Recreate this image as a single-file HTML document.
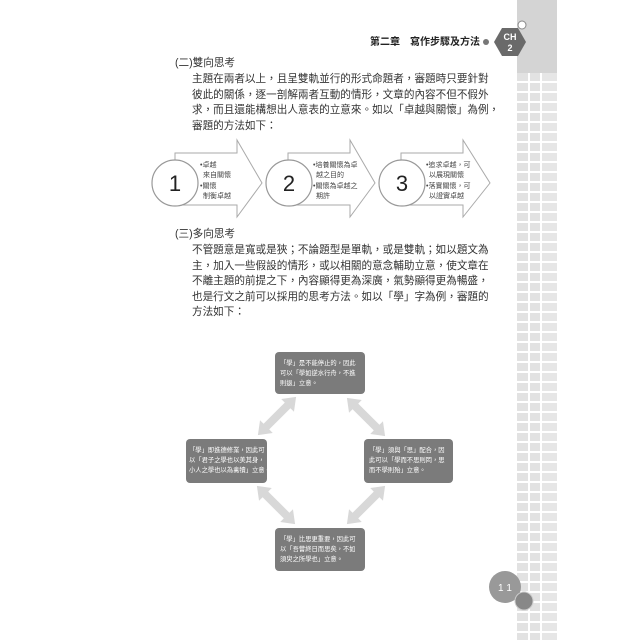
<!DOCTYPE html>
<html><head><meta charset="utf-8"><style>
body{margin:0;background:#fff;}
#p{position:relative;width:640px;height:640px;overflow:hidden;background:#fff;font-family:"Liberation Sans","Noto Sans CJK TC",sans-serif;color:#333;}
.t{position:absolute;white-space:nowrap;font-size:10.6px;line-height:15.5px;}
.side{position:absolute;left:517px;top:0;width:40px;height:640px;background:#d4d4d4;}
.grid{position:absolute;left:517px;top:73px;width:40px;height:567px;
background:
repeating-linear-gradient(to bottom,transparent 0,transparent 8px,#fff 8px,#fff 10px),
linear-gradient(to right,#e2e2e2 0,#e2e2e2 11px,#fff 11px,#fff 13px,#e2e2e2 13px,#e2e2e2 23px,#fff 23px,#fff 25px,#e6e6e6 25px);}
.box{position:absolute;background:#7b7b7b;border-radius:4px;color:#fff;font-size:6.3px;line-height:10px;padding:7px 5px;box-sizing:border-box;white-space:nowrap;overflow:hidden;}
</style></head><body><div id="p">
<div class="side"></div><div class="grid"></div>
<svg width="640" height="640" style="position:absolute;left:0;top:0">
  <circle cx="486" cy="42" r="3" fill="#777"/>
  <polygon points="494,42 502,28 518,28 526,42 518,56 502,56" fill="#6a6a6a"/>
  <circle cx="522" cy="25" r="4" fill="#fff" stroke="#888" stroke-width="1"/>
  <text x="510" y="40" font-size="9" font-weight="bold" fill="#fff" text-anchor="middle" font-family="Liberation Sans">CH</text>
  <text x="510" y="51" font-size="9" font-weight="bold" fill="#fff" text-anchor="middle" font-family="Liberation Sans">2</text>
  <g fill="#fff" stroke="#aaa" stroke-width="1">
    <polygon points="175,153 237,153 237,140 262,183 237,217 237,205 175,205"/>
    <polygon points="288,153 350,153 350,140 375,183 350,217 350,205 288,205"/>
    <polygon points="401,153 463,153 463,140 490,183 463,217 463,205 401,205"/>
  </g>
  <g fill="#fff" stroke="#999" stroke-width="1.2">
    <circle cx="175" cy="183" r="23"/><circle cx="289" cy="183" r="23"/><circle cx="402" cy="183" r="23"/>
  </g>
  <g font-size="22" fill="#222" text-anchor="middle" font-family="Liberation Sans">
    <text x="175" y="191">1</text><text x="289" y="191">2</text><text x="402" y="191">3</text>
  </g>
  <g font-size="7" fill="#444" font-family="Liberation Sans,Noto Sans CJK TC,sans-serif">
    <text x="200" y="167">•卓越</text><text x="203" y="177">來自關懷</text><text x="200" y="188">•關懷</text><text x="203" y="198">制衡卓越</text>
    <text x="313" y="167">•培養關懷為卓</text><text x="316" y="177">越之目的</text><text x="313" y="188">•關懷為卓越之</text><text x="316" y="198">期許</text>
    <text x="426" y="167">•追求卓越，可</text><text x="429" y="177">以展現關懷</text><text x="426" y="188">•落實關懷，可</text><text x="429" y="198">以證實卓越</text>
  </g>
  <defs>
    <g id="da"><polygon points="0,-4 30,-4 30,-9 42,0 30,9 30,4 0,4 0,9 -12,0 0,-9" fill="#d8d8d8"/></g>
  </defs>
  <use href="#da" transform="translate(277,416) rotate(-45) translate(-15,0)"/>
  <use href="#da" transform="translate(366,417) rotate(45) translate(-15,0)"/>
  <use href="#da" transform="translate(276,505) rotate(45) translate(-15,0)"/>
  <use href="#da" transform="translate(366,505) rotate(-45) translate(-15,0)"/>
  <circle cx="505" cy="587" r="16" fill="#999"/>
  <circle cx="524" cy="601" r="9" fill="#888" stroke="#ccc" stroke-width="1"/>
  <text x="505" y="591" font-size="10" fill="#fff" text-anchor="middle" font-family="Liberation Sans">1 1</text>
</svg>
<div class="t" style="left:370px;top:35px;font-size:10px;font-weight:bold;color:#222;">第二章　寫作步驟及方法</div>
<div class="t" style="left:175px;top:56px;">(二)雙向思考</div>
<div class="t" style="left:192px;top:72px;">主題在兩者以上，且呈雙軌並行的形式命題者，審題時只要針對<br>彼此的關係，逐一剖解兩者互動的情形，文章的內容不但不假外<br>求，而且還能構想出人意表的立意來。如以「卓越與關懷」為例，<br>審題的方法如下：</div>
<div class="t" style="left:175px;top:227px;">(三)多向思考</div>
<div class="t" style="left:192px;top:243px;">不管題意是寬或是狹；不論題型是單軌，或是雙軌；如以題文為<br>主，加入一些假設的情形，或以相關的意念輔助立意，使文章在<br>不離主題的前提之下，內容顯得更為深廣，氣勢顯得更為暢盛，<br>也是行文之前可以採用的思考方法。如以「學」字為例，審題的<br>方法如下：</div>
<div class="box" style="left:275px;top:352px;width:90px;height:42px;">「學」是不能停止的，因此<br>可以「學如逆水行舟，不進<br>則退」立意。</div>
<div class="box" style="left:186px;top:439px;width:81px;height:44px;padding:7px 3px;">「學」即進德修業，因此可<br>以「君子之學也以美其身，<br>小人之學也以為禽犢」立意。</div>
<div class="box" style="left:364px;top:439px;width:89px;height:44px;">「學」須與「思」配合，因<br>此可以「學而不思則罔，思<br>而不學則殆」立意。</div>
<div class="box" style="left:275px;top:528px;width:90px;height:43px;">「學」比思更重要，因此可<br>以「吾嘗終日而思矣，不如<br>須臾之所學也」立意。</div>
</div></body></html>
